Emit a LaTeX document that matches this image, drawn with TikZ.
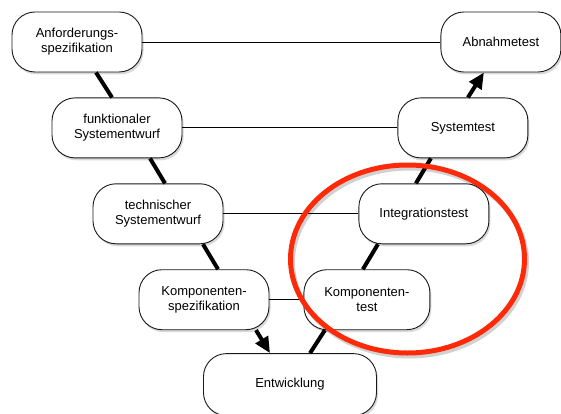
\documentclass[tikz,border=0pt]{standalone}
\usepackage{fontspec}
\setmainfont{Liberation Sans}
\usepackage{tikz}
\usetikzlibrary{positioning, shadows, arrows.meta}
\definecolor{markred}{RGB}{252,42,8}
\definecolor{boxline}{RGB}{25,25,25}

\begin{document}
\begin{tikzpicture}[
  x=1pt, y=-1pt,
  node distance=25pt,
  phase/.style={rectangle, draw=boxline, line width=0.9pt, rounded corners=23pt,
                fill=white, minimum width=130pt, minimum height=60pt,
                align=center, font=\fontsize{13}{15}\selectfont, inner sep=3pt,
                drop shadow={shadow xshift=1.5pt, shadow yshift=-2.5pt, opacity=0.3}},
  vline/.style={line width=4pt, color=black},
  varr/.style={vline, -{Triangle[length=16pt, width=14pt]}},
  link/.style={line width=0.8pt, color=black},
]
  \useasboundingbox (0,0) rectangle (561,414);

  % left branch
  \node[phase] (anf) at (77,42) {Anforderungs-\\spezifikation};
  \node[phase, below=25pt of anf, xshift=40pt] (funk) {funktionaler\\Systementwurf};
  \node[phase, below=25pt of funk, xshift=41pt] (tech) {technischer\\Systementwurf};
  \node[phase, below=25pt of tech, xshift=46pt] (kspez) {Komponenten-\\spezifikation};
  \node[phase, minimum width=173pt, minimum height=62pt,
        below=23pt of kspez, xshift=86pt] (entw) {Entwicklung};

  % right branch
  \node[phase, minimum width=126pt, right=34pt of kspez] (ktest) {Komponenten-\\test};
  \node[phase, above=25pt of ktest, xshift=57pt] (integ) {Integrationstest};
  \node[phase, above=25pt of integ, xshift=39pt] (systest) {Systemtest};
  \node[phase, minimum width=120pt, above=25pt of systest, xshift=38pt] (abn) {Abnahmetest};

  % test links
  \draw[link] (anf) -- (abn);
  \draw[link] (funk) -- (systest);
  \draw[link] (tech) -- (integ);
  \draw[link] (kspez) -- (ktest);

  % V
  \draw[vline] ([xshift=19pt]anf.south) -- ([xshift=-5pt]funk.north);
  \draw[vline] ([xshift=33pt]funk.south) -- ([xshift=7pt]tech.north);
  \draw[vline] ([xshift=45pt]tech.south) -- ([xshift=14pt]kspez.north);
  \draw[varr] ([xshift=52pt]kspez.south) -- ([xshift=-20pt]entw.north);
  \draw[vline] ([xshift=20pt]entw.north) -- ([xshift=-42pt]ktest.south);
  \draw[vline] ([xshift=-4pt]ktest.north) -- ([xshift=-46pt]integ.south);
  \draw[vline] ([xshift=-8pt]integ.north) -- ([xshift=-32pt]systest.south);
  \draw[varr] ([xshift=5pt]systest.north) -- ([xshift=-17pt]abn.south);

  % highlight
  \draw[line width=5pt, black, opacity=0.18] (409.5,262) ellipse (117pt and 94pt);
  \draw[line width=5pt, markred] (407.5,259) ellipse (117pt and 94pt);
\end{tikzpicture}
\end{document}
